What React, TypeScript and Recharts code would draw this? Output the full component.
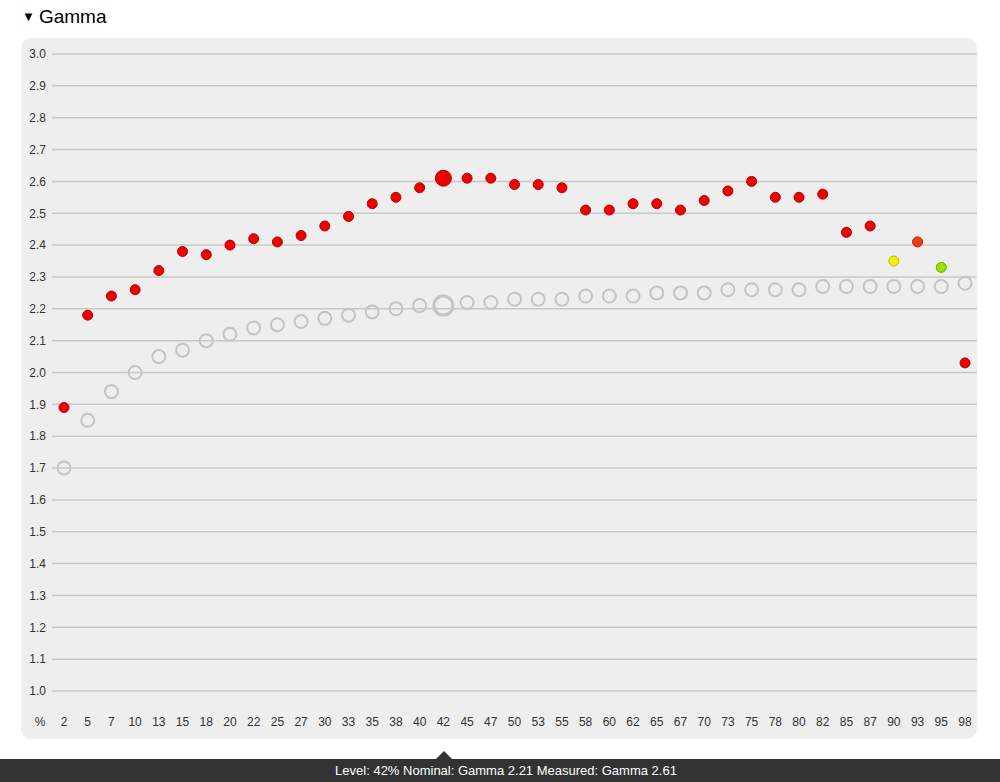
import { ComposedChart, Line, XAxis, YAxis, CartesianGrid } from "recharts";

// gray levels in percent
const levels = [
  "2", "5", "7", "10", "13", "15", "18", "20", "22", "25", "27", "30", "33",
  "35", "38", "40", "42", "45", "47", "50", "53", "55", "58", "60", "62", "65",
  "67", "70", "73", "75", "78", "80", "82", "85", "87", "90", "93", "95", "98",
];

const nominal = [
  1.7, 1.85, 1.94, 2.0, 2.05, 2.07, 2.1, 2.12, 2.14, 2.15, 2.16, 2.17, 2.18,
  2.19, 2.2, 2.21, 2.21, 2.22, 2.22, 2.23, 2.23, 2.23, 2.24, 2.24, 2.24, 2.25,
  2.25, 2.25, 2.26, 2.26, 2.26, 2.26, 2.27, 2.27, 2.27, 2.27, 2.27, 2.27, 2.28,
];

const measured = [
  1.89, 2.18, 2.24, 2.26, 2.32, 2.38, 2.37, 2.4, 2.42, 2.41, 2.43, 2.46, 2.49,
  2.53, 2.55, 2.58, 2.61, 2.61, 2.61, 2.59, 2.59, 2.58, 2.51, 2.51, 2.53, 2.53,
  2.51, 2.54, 2.57, 2.6, 2.55, 2.55, 2.56, 2.44, 2.46, 2.35, 2.41, 2.33, 2.03,
];

// deviation colour of each measured point
const measuredColors = levels.map((l) =>
  l === "90" ? "yellow" : l === "93" ? "orange" : l === "95" ? "green" : "red"
);

const yTicks = [
  1.0, 1.1, 1.2, 1.3, 1.4, 1.5, 1.6, 1.7, 1.8, 1.9, 2.0, 2.1, 2.2, 2.3, 2.4,
  2.5, 2.6, 2.7, 2.8, 2.9, 3.0,
];

const selected = 16; // 42%

const palette: Record<string, { fill: string; stroke: string }> = {
  red: { fill: "#ee0000", stroke: "#b80000" },
  yellow: { fill: "#f2f200", stroke: "#c8b400" },
  orange: { fill: "#f03a10", stroke: "#c02000" },
  green: { fill: "#9be000", stroke: "#6aa800" },
};

const chartData = levels.map((level, i) => ({
  level,
  nominal: nominal[i],
  measured: measured[i],
}));

const FONT = '"Liberation Sans", Arial, sans-serif';

function NominalDot(props: any) {
  const { cx, cy, index } = props;
  const big = index === selected;
  return (
    <circle
      key={`n-${index}`}
      cx={cx}
      cy={cy}
      r={big ? 9.5 : 6.5}
      fill="none"
      stroke="#c4c4c4"
      strokeWidth={big ? 3 : 2}
    />
  );
}

function MeasuredDot(props: any) {
  const { cx, cy, index } = props;
  const c = palette[measuredColors[index]];
  const big = index === selected;
  return (
    <circle
      key={`m-${index}`}
      cx={cx}
      cy={cy}
      r={big ? 8 : 5}
      fill={c.fill}
      stroke={c.stroke}
      strokeWidth={1}
    />
  );
}

function XTick(props: any) {
  const { x, y, payload } = props;
  return (
    <g>
      {payload.value === levels[0] && (
        <text x={x - 24} y={y + 31} textAnchor="middle" dominantBaseline="central" fontSize={12} fill="#333">
          %
        </text>
      )}
      <text x={x} y={y + 31} textAnchor="middle" dominantBaseline="central" fontSize={12} fill="#333">
        {payload.value}
      </text>
    </g>
  );
}

export default function App() {
  return (
    <div style={{ position: "absolute", left: 0, top: 0, width: 1000, height: 782, fontFamily: FONT, overflow: "hidden" }}>
      <div style={{ position: "absolute", left: 22, top: 6, fontSize: 19, color: "#000" }}>
        <span style={{ fontSize: 13, marginRight: 4, position: "relative", top: -2 }}>▼</span>
        Gamma
      </div>
      <div
        style={{
          position: "absolute",
          left: 21,
          top: 38,
          width: 956,
          height: 701,
          background: "#eeeeee",
          borderRadius: 10,
        }}
      >
        <ComposedChart
          width={956}
          height={701}
          data={chartData}
          margin={{ top: 16, right: 0, left: 0, bottom: 0 }}
          style={{ fontFamily: FONT }}
        >
          <CartesianGrid vertical={false} stroke="#c8c8c8" strokeWidth={1.5} />
          <XAxis
            dataKey="level"
            interval={0}
            padding={{ left: 12, right: 12 }}
            tickLine={false}
            axisLine={false}
            tickSize={0}
            tickMargin={0}
            height={48}
            tick={<XTick />}
          />
          <YAxis
            width={31}
            domain={[1, 3]}
            ticks={yTicks}
            interval={0}
            tickLine={false}
            axisLine={false}
            tickSize={0}
            tickMargin={6}
            tickFormatter={(v: number) => v.toFixed(1)}
            tick={{ fontSize: 12, fill: "#333" }}
          />
          <Line
            dataKey="nominal"
            stroke="none"
            dot={NominalDot}
            activeDot={false}
            isAnimationActive={false}
          />
          <Line
            dataKey="measured"
            stroke="none"
            dot={MeasuredDot}
            activeDot={false}
            isAnimationActive={false}
          />
        </ComposedChart>
      </div>
      <div
        style={{
          position: "absolute",
          left: 436,
          top: 751,
          width: 0,
          height: 0,
          borderLeft: "8px solid transparent",
          borderRight: "8px solid transparent",
          borderBottom: "8px solid #333333",
        }}
      />
      <div
        style={{
          position: "absolute",
          left: 0,
          top: 759,
          width: 1000,
          height: 23,
          background: "#333333",
          color: "#fff",
          fontSize: 13,
          lineHeight: "23px",
          textAlign: "center",
          paddingLeft: 12,
          boxSizing: "border-box",
        }}
      >
        {`Level: ${levels[selected]}% Nominal: Gamma ${nominal[selected].toFixed(2)} Measured: Gamma ${measured[selected].toFixed(2)}`}
      </div>
    </div>
  );
}
